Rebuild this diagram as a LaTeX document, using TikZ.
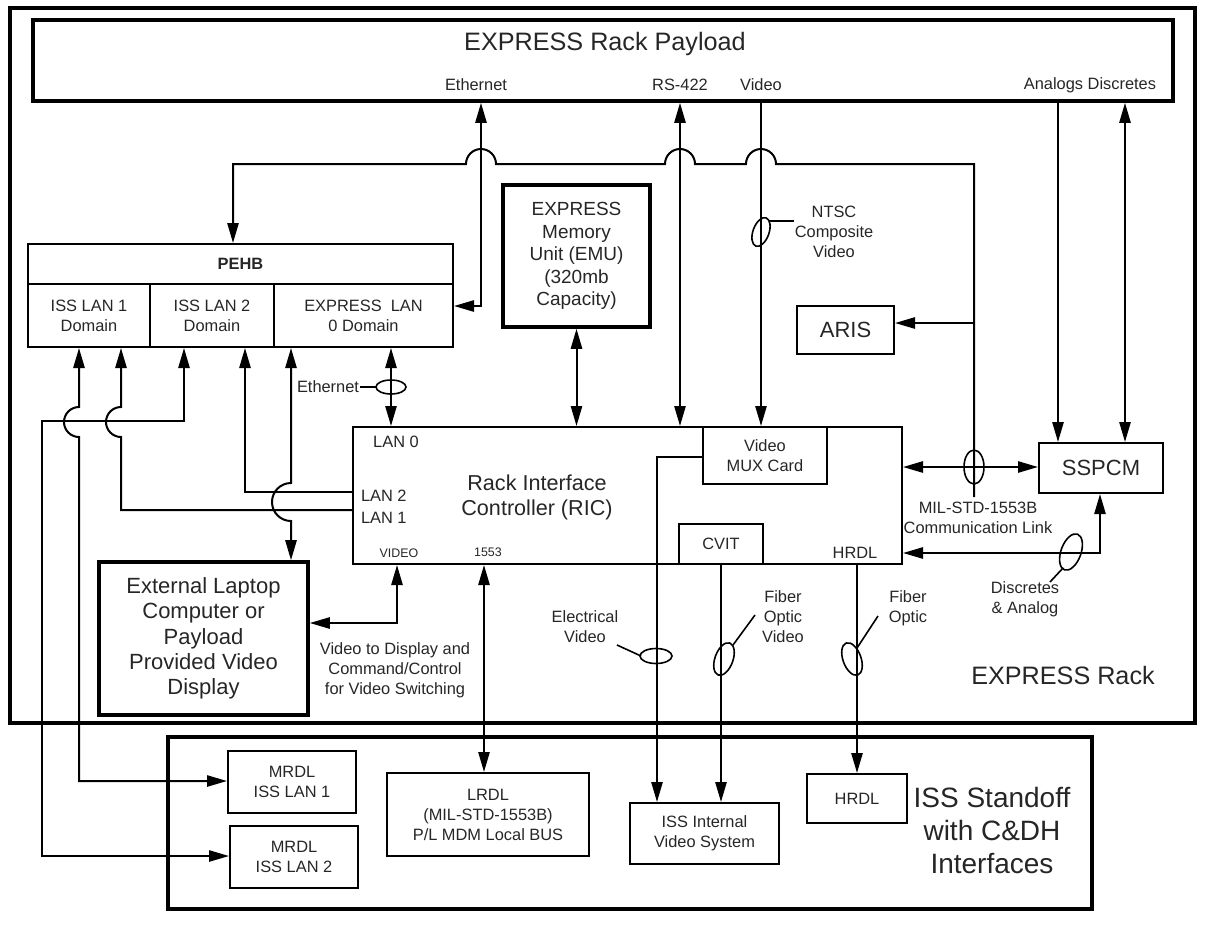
\documentclass[tikz,border=0pt]{standalone}
\usepackage{fontspec}
\setmainfont{Liberation Sans}
\usetikzlibrary{arrows.meta}

\tikzset{
    box/.style={draw, line width=1pt, inner sep=0pt, align=center},
    heavybox/.style={box, line width=1.8pt},
    wh/.style 2 args={minimum width=#1*0.5pt, minimum height=#2*0.5pt},
    lbl/.style={font=\fontsize{8.2}{10}\selectfont, align=center, inner sep=0pt},
    tinylbl/.style={font=\fontsize{6.2}{7.5}\selectfont, inner sep=0pt},
    midlbl/.style={font=\fontsize{9.5}{11.3}\selectfont, align=center},
    biglbl/.style={font=\fontsize{11}{12.6}\selectfont, align=center},
    titlelbl/.style={font=\fontsize{12.6}{15}\selectfont, align=center, inner sep=0pt}
}

\begin{document}
\begin{tikzpicture}[x=0.5pt, y=-0.5pt, line width=1pt,
    >={Triangle[length=10pt,width=5.6pt]},
    every node/.append style={text=black!85}]
    \useasboundingbox (0,0) rectangle (1217,928);

    \node[heavybox, wh={1185}{715}] (rack) at (602.5,365.5) {};
    \node[heavybox, wh={1140}{81}] (payload) at (603,60.5) {};
    \node[titlelbl] (paytitle) at (605,44) {EXPRESS Rack Payload};
    \node[lbl] (ethport) at (476,85) {Ethernet};
    \node[lbl] (rsport) at (680,85) {RS-422};
    \node[lbl] (vidport) at (761,85) {Video};
    \node[lbl] (adport) at (1090,85) {Analogs Discretes};

    \node[box, wh={425}{40}, font=\fontsize{8.2}{10}\selectfont\bfseries] (pehb) at (240.5,264) {PEHB};
    \node[box, lbl, wh={122}{63}] (lan1dom) at (89,315.5) {ISS LAN 1\\Domain};
    \node[box, lbl, wh={124}{63}] (lan2dom) at (212,315.5) {ISS LAN 2\\Domain};
    \node[box, lbl, wh={179}{63}] (lan0dom) at (363.5,315.5) {EXPRESS\ \ LAN\\0 Domain};

    \node[heavybox, midlbl, wh={147}{142}] (emu) at (576.5,256) {EXPRESS\\Memory\\Unit (EMU)\\(320mb\\Capacity)};
    \node[box, biglbl, wh={97}{48}] (aris) at (845.5,330) {ARIS};
    \node[box, biglbl, wh={124}{50}] (sspcm) at (1101,468) {SSPCM};

    \node[box, wh={549}{137}] (ric) at (627.5,495.5) {};
    \node[biglbl, font=\fontsize{10.8}{12.5}\selectfont] (rictext) at (537,497) {Rack Interface\\Controller (RIC)};
    \node[box, lbl, wh={124}{57}] (mux) at (765,455.5) {Video\\MUX Card};
    \node[box, lbl, wh={84}{40}] (cvit) at (721,544) {CVIT};
    \node[lbl] (lan0port) at (396,442) {LAN 0};
    \node[lbl, anchor=west] (lan2port) at (360,496) {LAN 2};
    \node[lbl, anchor=west] (lan1port) at (360,518) {LAN 1};
    \node[tinylbl] (videoport) at (399,553) {VIDEO};
    \node[tinylbl] (busport) at (488,552) {1553};
    \node[lbl] (hrdlport) at (855,553) {HRDL};

    \node[heavybox, biglbl, wh={209}{153}] (laptop) at (203.5,638.5) {External Laptop\\Computer or\\Payload\\Provided Video\\Display};
    \node[lbl] (vidnote) at (395,670) {Video to Display and\\Command/Control\\for Video Switching};
    \node[titlelbl] (racktitle) at (1063,675) {EXPRESS Rack};

    \node[heavybox, wh={924}{172}] (iss) at (630,823) {};
    \node[box, lbl, wh={128}{62}] (mrdl1) at (292,782) {MRDL\\ISS LAN 1};
    \node[box, lbl, wh={128}{62}] (mrdl2) at (294,857) {MRDL\\ISS LAN 2};
    \node[box, lbl, wh={202}{83}] (lrdl) at (488,814.5) {LRDL\\(MIL-STD-1553B)\\P/L MDM Local BUS};
    \node[box, lbl, wh={149}{61}] (isv) at (704.5,833.5) {ISS Internal\\Video System};
    \node[box, lbl, wh={100}{49}] (hrdl) at (857,798.5) {HRDL};
    \node[font=\fontsize{14}{16.5}\selectfont, align=center] (isstitle) at (992,830) {ISS Standoff\\with C\&DH\\Interfaces};

    \node[lbl, anchor=east] (ethnote) at (360,387) {Ethernet};
    \node[lbl] (ntscnote) at (834,232) {NTSC\\Composite\\Video};
    \node[lbl] (milnote) at (978,518) {MIL-STD-1553B\\Communication Link};
    \node[lbl] (danote) at (1025,599) {Discretes\\\& Analog};
    \node[lbl] (evnote) at (585,627) {Electrical\\Video};
    \node[lbl] (fovnote) at (783,617) {Fiber\\Optic\\Video};
    \node[lbl] (fonote) at (908,608) {Fiber\\Optic};

    \coordinate (ethbend) at (481,306);
    \coordinate (busNE) at (974,164);
    \coordinate (busend) at (974,497);
    \coordinate (arisT) at (974,323);
    \coordinate (pehbin) at (233,164);
    \coordinate (rsx) at (680,0);
    \coordinate (vidx) at (761,0);
    \coordinate (anx) at (1058,0);
    \coordinate (dsx) at (1125,0);
    \coordinate (milT) at (974,467);
    \coordinate (dabend) at (1100,553);
    \coordinate (lan0x) at (391,0);
    \coordinate (lan1a) at (79,781);
    \coordinate (lan1b) at (121,510);
    \coordinate (lan2turn) at (184,421);
    \coordinate (lan2foot) at (42,856);
    \coordinate (lan2ric) at (245,492);
    \coordinate (lapx) at (291,0);
    \coordinate (vidbend) at (397,623);
    \coordinate (busx) at (484,0);
    \coordinate (evbend) at (657,457);
    \coordinate (ntsctip) at (769,221);

    \draw[<->] (lan0dom.east |- ethbend) -- (ethbend) -- (ethbend |- payload.south);
    \draw[<->] (payload.south -| rsx) -- (ric.north -| rsx);
    \draw[->] (payload.south -| vidx) -- (mux.north -| vidx);
    \draw[->] (payload.south -| anx) -- (sspcm.north -| anx);
    \draw[<->] (payload.south -| dsx) -- (sspcm.north -| dsx);
    \draw[->] (busend) -- (busNE) -- (776,164) arc[start angle=360,end angle=180,radius=15]
        -- (695,164) arc[start angle=360,end angle=180,radius=15]
        -- (496,164) arc[start angle=360,end angle=180,radius=15]
        -- (pehbin) -- (pehbin |- pehb.north);
    \draw[->] (arisT) -- (arisT -| aris.east);
    \draw[<->] (emu.south) -- (emu.south |- ric.north);
    \draw[<->] (lan0dom.south -| lan0x) -- (ric.north -| lan0x);
    \draw[<->] (ric.east |- milT) -- (sspcm.west |- milT);
    \draw[<->] (ric.east |- dabend) -- (dabend) -- (dabend |- sspcm.south);

    \draw[<->] (lan1dom.south -| lan1a) -- ++(0,59) arc[start angle=270,end angle=90,radius=15]
        -- (lan1a) -- (lan1a -| mrdl1.west);
    \draw[<-] (lan1dom.south -| lan1b) -- ++(0,59) arc[start angle=270,end angle=90,radius=15]
        -- (lan1b) -- (lan1b -| ric.west);
    \draw[<->] (lan2dom.south -| lan2turn) -- (lan2turn) -- (lan2turn -| lan2foot) -- (lan2foot)
        -- (lan2foot -| mrdl2.west);
    \draw[<-] (lan2dom.south -| lan2ric) -- (lan2ric) -- (lan2ric -| ric.west);
    \draw[<->] (lan0dom.south -| lapx) -- ++(0,135) arc[start angle=270,end angle=90,radius=19]
        -- (lapx |- laptop.north);
    \draw[<->] (ric.south -| vidbend) -- (vidbend) -- (vidbend -| laptop.east);
    \draw[<->] (ric.south -| busx) -- (busx |- lrdl.north);
    \draw[->] (mux.west |- evbend) -- (evbend) -- (evbend |- isv.north);
    \draw[->] (cvit.south) -- (cvit.south |- isv.north);
    \draw[->] (hrdl.north |- ric.south) -- (hrdl.north);

    \draw[line width=0.8pt] (391,387) ellipse[x radius=15, y radius=7];
    \draw[line width=0.8pt] (ethnote.east) -- (376,387);
    \draw[line width=0.8pt, rotate around={-20:(761,232)}] (761,232) ellipse[x radius=8, y radius=15];
    \draw[line width=0.8pt] (ntsctip) -- (ntsctip -| ntscnote.west);
    \draw[line width=0.8pt] (milT) ellipse[x radius=10, y radius=17];
    \draw[line width=0.8pt, rotate around={-20:(1071,552)}] (1071,552) ellipse[x radius=10, y radius=19];
    \draw[line width=0.8pt] (1063,568) -- (1050,582);
    \draw[line width=0.8pt] (656,656) ellipse[x radius=16, y radius=7.5];
    \draw[line width=0.8pt] (617,645) -- (641,656);
    \draw[line width=0.8pt, rotate around={-20:(724,659)}] (724,659) ellipse[x radius=9, y radius=17];
    \draw[line width=0.8pt] (733,645) -- (755,615);
    \draw[line width=0.8pt, rotate around={20:(852,659)}] (852,659) ellipse[x radius=9, y radius=17];
    \draw[line width=0.8pt] (857,648) -- (878,616);
\end{tikzpicture}
\end{document}
